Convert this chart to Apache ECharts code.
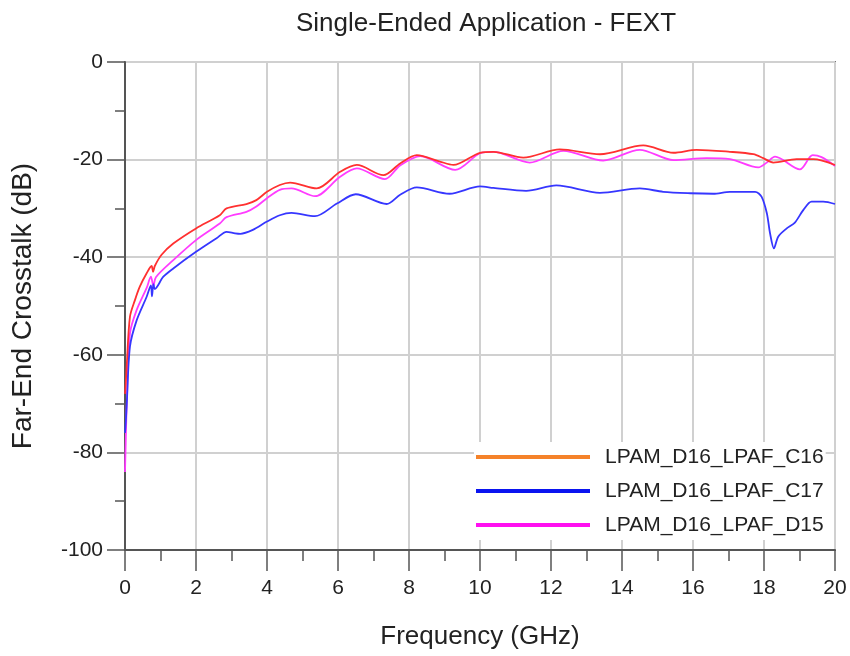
<!DOCTYPE html>
<html>
<head>
<meta charset="utf-8">
<script src="https://cdn.jsdelivr.net/npm/echarts@6/dist/echarts.min.js"></script>
<style>
  html, body { margin: 0; padding: 0; background: #fff; }
  #chart { width: 850px; height: 656px; }
</style>
</head>
<body>
<div id="chart"></div>
<script>
  // values
  const seriesNames = ['LPAM_D16_LPAF_C16', 'LPAM_D16_LPAF_C17', 'LPAM_D16_LPAF_D15']

  const freqC16 = [0, 0.02, 0.05, 0.14, 0.28, 0.42, 0.61, 0.75, 0.79, 0.84, 1.03, 1.36, 2, 2.67, 2.86, 3.42, 3.7, 4, 4.36,
    4.65, 5.4, 6.06, 6.53, 7.28, 7.75, 8.22, 8.87, 9.25, 10, 10.38, 11.22, 12.25, 13.38, 14.6,
    15.45, 16.1, 17.04, 17.7, 17.98, 18.26, 18.92, 19.39, 20]
  const dbC16 = [-68, -66, -62, -52.2, -48.8, -46, -43.3, -41.8, -43, -41.8, -39.5, -37.2, -34.1, -31.4, -30, -29.1, -28.3, -26.6, -25.2,
    -24.7, -25.9, -22.5, -21.1, -23.2, -20.8, -19.1, -20.4, -21.1, -18.6, -18.4, -19.6, -17.9, -18.9, -17.1,
    -18.6, -18.0, -18.4, -18.9, -19.7, -20.6, -19.9, -19.9, -21.1]

  const freqC17 = [0, 0.02, 0.05, 0.14, 0.33, 0.61, 0.73, 0.76, 0.8, 0.84, 1.08, 1.36, 2, 2.58, 2.86, 3.1, 3.25, 3.6, 4, 4.36,
    4.69, 5.35, 5.97, 6.5, 7.37, 7.75, 8.22, 9.14, 10, 10.38, 11.3, 12.15, 13.38, 14.5,
    15.16, 15.92, 16.57, 17.04, 17.75, 17.93, 18.08, 18.17, 18.28, 18.4, 18.64, 18.87, 19.11, 19.34, 19.67, 20]
  const dbC17 = [-76, -74, -70, -58.3, -52.9, -48.1, -45.8, -48, -45.5, -46.5, -44, -42.3, -38.9, -36.1, -34.8, -35.1, -35.2, -34.4, -32.7, -31.4,
    -30.9, -31.6, -29, -27.1, -29.1, -27.2, -25.7, -27.0, -25.5, -25.8, -26.4, -25.3, -26.8, -25.9,
    -26.6, -26.9, -27.0, -26.6, -26.6, -27.6, -31.0, -35.1, -38.2, -35.8, -34.1, -32.9, -30.3, -28.6, -28.6, -29.1]

  const freqD15 = [0, 0.02, 0.05, 0.14, 0.33, 0.61, 0.73, 0.8, 0.87, 1.36, 2, 2.67, 2.86, 3.42, 3.7, 4, 4.36,
    4.69, 5.35, 6.06, 6.53, 7.32, 7.75, 8.32, 9.3, 10, 10.38, 11.4, 12.35, 13.47, 14.5,
    15.45, 16.38, 17.04, 17.84, 18.08, 18.31, 19.01, 19.37, 19.62, 20]
  const dbD15 = [-84, -78, -70, -55.6, -50.8, -46.3, -44, -45.9, -44.1, -40.6, -36.5, -33.1, -31.8, -30.7, -29.6, -27.9, -26.2,
    -25.9, -27.5, -23.5, -21.8, -24, -21.2, -19.3, -22.1, -18.7, -18.4, -20.6, -18.2, -20.2, -18.0,
    -20.1, -19.7, -19.9, -21.6, -20.6, -19.4, -22.0, -19.1, -19.5, -21.3]

  const lineColors = ['#ff3030', '#3636ff', '#ff3cff']
  const legendColors = ['#f5822a', '#0a14f0', '#ff10f0']

  function pairs(xs, ys) {
    return xs.map((x, i) => [x, ys[i]])
  }

  const myChart = echarts.init(document.getElementById('chart'))
  const font = '"Liberation Sans", Arial, sans-serif'

  myChart.setOption({
    animation: false,
    title: {
      text: 'Single-Ended Application - FEXT',
      left: 481,
      top: 6,
      textAlign: 'center',
      textStyle: {fontFamily: font, fontSize: 26, fontWeight: 'normal', color: '#222'}
    },
    grid: {
      left: 125,
      right: 15,
      top: 62,
      bottom: 106,
      show: true,
      borderColor: '#777',
      borderWidth: 2
    },
    legend: {
      orient: 'vertical',
      left: 474,
      top: 442,
      padding: [3, 2, 3, 2],
      backgroundColor: '#fff',
      itemWidth: 114,
      itemHeight: 4,
      itemGap: 10,
      icon: 'rect',
      textStyle: {fontFamily: font, fontSize: 21, color: '#222', lineHeight: 24, padding: [0, 0, 0, 10]},
      data: seriesNames.map((n, i) => ({name: n, itemStyle: {color: legendColors[i]}}))
    },
    xAxis: {
      type: 'value',
      name: 'Frequency (GHz)',
      nameLocation: 'middle',
      nameGap: 74,
      nameTextStyle: {fontFamily: font, fontSize: 26, color: '#222'},
      min: 0,
      max: 20,
      interval: 2,
      axisLine: {onZero: false, lineStyle: {color: '#555', width: 2}},
      axisTick: {show: true, inside: false, length: 21, lineStyle: {color: '#555', width: 1.5}},
      minorTick: {show: true, splitNumber: 2, length: 11, lineStyle: {color: '#555', width: 1.5}},
      axisLabel: {fontFamily: font, fontSize: 21, color: '#222', margin: 28},
      splitLine: {show: true, lineStyle: {color: '#d0d0d0', width: 2}}
    },
    yAxis: {
      type: 'value',
      name: 'Far-End Crosstalk (dB)',
      nameLocation: 'middle',
      nameGap: 88,
      nameTextStyle: {fontFamily: font, fontSize: 28, color: '#222'},
      min: -100,
      max: 0,
      interval: 20,
      axisLine: {onZero: false, lineStyle: {color: '#555', width: 2}},
      axisTick: {show: true, inside: false, length: 18, lineStyle: {color: '#555', width: 1.5}},
      minorTick: {show: true, splitNumber: 2, length: 10, lineStyle: {color: '#555', width: 1.5}},
      axisLabel: {fontFamily: font, fontSize: 21, color: '#222', margin: 22},
      splitLine: {show: true, lineStyle: {color: '#d0d0d0', width: 2}}
    },
    series: [
      {name: seriesNames[0], data: pairs(freqC16, dbC16)},
      {name: seriesNames[1], data: pairs(freqC17, dbC17)},
      {name: seriesNames[2], data: pairs(freqD15, dbD15)}
    ].map((s, i) => ({
      ...s,
      type: 'line',
      smooth: 0.3,
      showSymbol: false,
      symbol: 'none',
      color: lineColors[i],
      lineStyle: {color: lineColors[i], width: 1.8},
      z: 3 - i
    }))
  })
</script>
</body>
</html>
